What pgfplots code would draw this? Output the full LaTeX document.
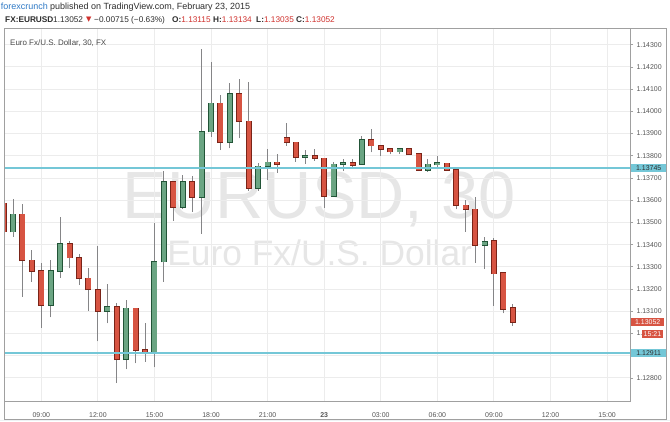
\documentclass[border=0pt]{standalone}
\usepackage{fontspec}
\setmainfont{Liberation Sans}
\newfontfamily\dejavu{DejaVu Sans}
\usepackage{pgfplots}
\usepackage{pgfplotstable}
\pgfplotsset{compat=1.18}
\definecolor{upfill}{HTML}{6BA583}
\definecolor{upline}{HTML}{225437}
\definecolor{dnfill}{HTML}{D75442}
\definecolor{dnline}{HTML}{7A2418}
\definecolor{wick}{HTML}{858587}
\definecolor{gridc}{HTML}{ECECEC}
\definecolor{cyanl}{HTML}{74C7D7}
\definecolor{framec}{HTML}{A0A0A0}
\definecolor{txt}{HTML}{2E2E2E}
\definecolor{lbl}{HTML}{555555}
\definecolor{wm}{HTML}{E6E6E6}
\definecolor{hdrblue}{HTML}{2F7AC6}
\definecolor{hdrred}{HTML}{D0312D}
\definecolor{strip}{HTML}{EEF1F4}

% up (green) candles: index, open, high, low, close
\pgfplotstableread{
n O H L C
1 1.13458 1.13604 1.13435 1.13537
5 1.13127 1.13330 1.13072 1.13282
6 1.13282 1.13525 1.13252 1.13405
11 1.13100 1.13221 1.13045 1.13120
13 1.12883 1.13150 1.12838 1.13113
16 1.12913 1.13498 1.12847 1.13323
17 1.13323 1.13731 1.13232 1.13683
19 1.13568 1.13713 1.13560 1.13683
21 1.13615 1.14281 1.13450 1.13908
22 1.13908 1.14223 1.13886 1.14036
24 1.13860 1.14126 1.13833 1.14078
27 1.13655 1.13766 1.13642 1.13752
28 1.13752 1.13830 1.13691 1.13770
32 1.13793 1.13828 1.13763 1.13801
35 1.13618 1.13770 1.13618 1.13761
36 1.13761 1.13784 1.13731 1.13768
38 1.13761 1.13889 1.13761 1.13871
42 1.13819 1.13834 1.13807 1.13830
45 1.13736 1.13784 1.13728 1.13761
46 1.13760 1.13799 1.13750 1.13768
51 1.13398 1.13435 1.13290 1.13413
}\upc

% down (red) candles: index, open, high, low, close
\pgfplotstableread{
n O H L C
0 1.13586 1.13592 1.13455 1.13458
2 1.13537 1.13582 1.13165 1.13329
3 1.13329 1.13375 1.13232 1.13281
4 1.13282 1.13317 1.13025 1.13127
7 1.13405 1.13416 1.13293 1.13342
8 1.13342 1.13356 1.13218 1.13248
9 1.13248 1.13293 1.13102 1.13198
10 1.13198 1.13393 1.12965 1.13100
12 1.13120 1.13138 1.12777 1.12883
14 1.13113 1.13115 1.12865 1.12925
15 1.12925 1.13045 1.12872 1.12913
18 1.13683 1.13683 1.13507 1.13568
20 1.13683 1.13710 1.13548 1.13615
23 1.14036 1.14073 1.13826 1.13860
25 1.14078 1.14146 1.13878 1.13955
26 1.13955 1.14133 1.13642 1.13655
29 1.13770 1.13806 1.13723 1.13761
30 1.13882 1.13946 1.13846 1.13860
31 1.13860 1.13860 1.13772 1.13793
33 1.13800 1.13830 1.13777 1.13788
34 1.13788 1.13788 1.13567 1.13618
37 1.13768 1.13784 1.13748 1.13759
39 1.13871 1.13919 1.13815 1.13845
40 1.13845 1.13848 1.13799 1.13829
41 1.13830 1.13833 1.13806 1.13818
43 1.13830 1.13833 1.13806 1.13806
44 1.13808 1.13808 1.13731 1.13736
47 1.13766 1.13766 1.13731 1.13736
48 1.13736 1.13746 1.13559 1.13577
49 1.13577 1.13600 1.13458 1.13559
50 1.13559 1.13615 1.13318 1.13398
52 1.13416 1.13428 1.13124 1.13270
53 1.13273 1.13273 1.13090 1.13109
54 1.13115 1.13134 1.13035 1.13052
}\dnc

\pgfplotsset{
  candle/.style={forget plot, draw=none, mark=none, no markers,
    error bars/.cd, y dir=plus, y explicit, error mark=none,
    error bar style={draw=#1, solid}},
}

\begin{document}
\begin{tikzpicture}[x=1bp,y=1bp]
\fill[white] (-4,-20) rectangle (666,401);
\fill[strip] (-4,-20) rectangle (666,-18.5);
% watermark
\node[anchor=base, text=wm, font=\fontsize{67}{67}\selectfont, inner sep=0] at (315.5,182.7) {EURUSD, 30};
\node[anchor=base, text=wm, font=\fontsize{35.5}{36}\selectfont, inner sep=0] at (315.7,136) {Euro Fx/U.S. Dollar};

\begin{axis}[
  at={(0,0)}, anchor=south west,
  scale only axis, width=626bp, height=372.5bp,
  xmin=0.04, xmax=66.43, ymin=1.12696, ymax=1.14373,
  axis line style={framec, line width=1bp},
  grid=major, grid style={gridc, line width=0.9bp},
  xtick={4,10,16,22,28,34,40,46,52,58,64},
  xticklabels={09:00,12:00,15:00,18:00,21:00,\textbf{23},03:00,06:00,09:00,12:00,15:00},
  ytick={1.128,1.129,1.130,1.131,1.132,1.133,1.134,1.135,1.136,1.137,1.138,1.139,1.140,1.141,1.142,1.143},
  yticklabels={1.12800,,1.13000,1.13100,1.13200,1.13300,1.13400,1.13500,1.13600,1.13700,1.13800,1.13900,1.14000,1.14100,1.14200,1.14300},
  ytick pos=right, yticklabel pos=right,
  xtick pos=bottom,
  tick align=outside, major tick length=3bp,
  ytick style={framec, line width=0.8bp},
  xtick style={draw=none},
  tick label style={font=\fontsize{7}{8}\selectfont, text=lbl},
  xticklabel style={anchor=base, yshift=-13.5bp},
]
% wicks
\addplot[candle=wick, error bar style={line width=1bp}]
  table[x=n, y=L, y error expr=\thisrow{H}-\thisrow{L}] {\upc};
\addplot[candle=wick, error bar style={line width=1bp}]
  table[x=n, y=L, y error expr=\thisrow{H}-\thisrow{L}] {\dnc};
% bodies: border then fill
\addplot[candle=upline, error bar style={line width=6bp}]
  table[x=n, y expr=\thisrow{O}-0.00003, y error expr=\thisrow{C}-\thisrow{O}+0.00006] {\upc};
\addplot[candle=upfill, error bar style={line width=4.4bp}]
  table[x=n, y=O, y error expr=\thisrow{C}-\thisrow{O}] {\upc};
\addplot[candle=dnline, error bar style={line width=6bp}]
  table[x=n, y expr=\thisrow{C}-0.00003, y error expr=\thisrow{O}-\thisrow{C}+0.00006] {\dnc};
\addplot[candle=dnfill, error bar style={line width=4.4bp}]
  table[x=n, y=C, y error expr=\thisrow{O}-\thisrow{C}] {\dnc};
% horizontal levels
\addplot[forget plot, cyanl, line width=2bp] coordinates {(0.04,1.13745) (66.43,1.13745)};
\addplot[forget plot, cyanl, line width=2bp] coordinates {(0.04,1.12911) (66.43,1.12911)};
\coordinate (lA) at (axis cs:66.43,1.13745);
\coordinate (lB) at (axis cs:66.43,1.12911);
\coordinate (lC) at (axis cs:66.43,1.13052);
\end{axis}

% frame
\draw[framec, line width=1bp] (0,-18.5) rectangle (662.5,372.5);

% price tags
\node[fill=cyanl, text=txt, font=\fontsize{7}{8}\selectfont, anchor=west, minimum width=35bp, minimum height=8bp, inner sep=0] at ([xshift=1bp]lA) {1.13745};
\node[fill=cyanl, text=txt, font=\fontsize{7}{8}\selectfont, anchor=west, minimum width=35bp, minimum height=8bp, inner sep=0] at ([xshift=1bp]lB) {1.12911};
\node[fill=dnfill, text=white, font=\fontsize{7}{8}\selectfont, anchor=west, minimum width=33bp, minimum height=8bp, inner sep=0] at ([xshift=1bp]lC) {1.13052};
\node[fill=dnfill, text=white, font=\fontsize{7}{8}\selectfont, anchor=west, minimum width=21bp, minimum height=8bp, inner sep=0] at ([xshift=11.7bp,yshift=-12.2bp]lC) {15:21};

% chart title
\node[anchor=base west, inner sep=0, text=lbl!90!black, font=\fontsize{8}{9}\selectfont] at (6,355.8) {Euro Fx/U.S. Dollar, 30, FX};

% header
\node[anchor=base west, inner sep=0, text=txt, font=\fontsize{9}{10}\selectfont] at (-3.3,391.1) {\textcolor{hdrblue}{forexcrunch} published on TradingView.com, February 23, 2015};
\node[anchor=base west, inner sep=0, text=txt, font=\fontsize{8.3}{9}\selectfont] at (1,379) {\textbf{FX:EURUSD}};
\node[anchor=base west, inner sep=0, text=txt, font=\fontsize{8.3}{9}\selectfont] at (49,379) {1.13052};
\node[anchor=base west, inner sep=0, text=hdrred, font=\dejavu\fontsize{7}{8}\selectfont] at (82,379.5) {▼};
\node[anchor=base west, inner sep=0, text=txt, font=\fontsize{8.3}{9}\selectfont] at (90,379) {−0.00715 (−0.63\%)};
\node[anchor=base west, inner sep=0, text=txt, font=\fontsize{8.3}{9}\selectfont] at (168,379) {\textbf{O:}\textcolor{hdrred}{1.13115}};
\node[anchor=base west, inner sep=0, text=txt, font=\fontsize{8.3}{9}\selectfont] at (209,379) {\textbf{H:}\textcolor{hdrred}{1.13134}};
\node[anchor=base west, inner sep=0, text=txt, font=\fontsize{8.3}{9}\selectfont] at (252,379) {\textbf{L:}\textcolor{hdrred}{1.13035}};
\node[anchor=base west, inner sep=0, text=txt, font=\fontsize{8.3}{9}\selectfont] at (292,379) {\textbf{C:}\textcolor{hdrred}{1.13052}};

\pgfresetboundingbox
\useasboundingbox (-4,-20) rectangle (666,401);
\end{tikzpicture}
\end{document}
